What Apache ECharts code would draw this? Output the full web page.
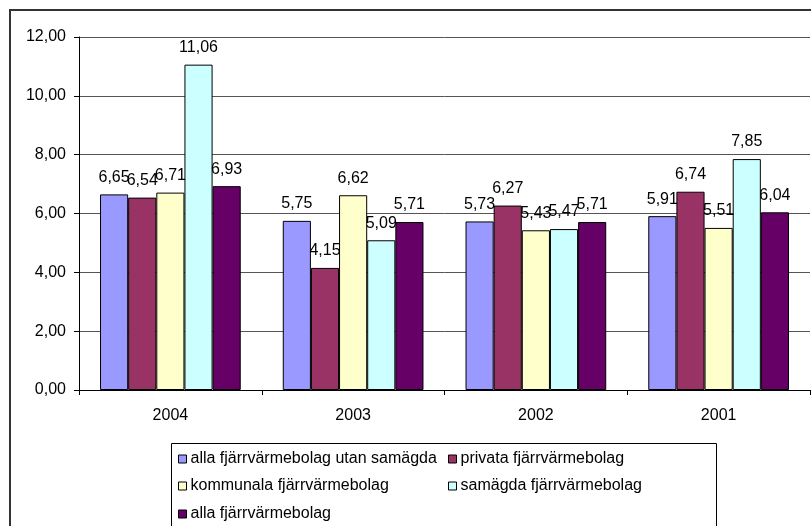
<!DOCTYPE html>
<html><head><meta charset="utf-8">
<script src="https://cdn.jsdelivr.net/npm/echarts@6/dist/echarts.min.js"></script>
<style>html,body{margin:0;padding:0;background:#fff}#c{width:811px;height:526px}</style>
</head><body><div id="c"></div>
<script>
const categories = ['2004', '2003', '2002', '2001'];
const seriesNames = ['alla fjärrvärmebolag utan samägda', 'privata fjärrvärmebolag', 'kommunala fjärrvärmebolag', 'samägda fjärrvärmebolag', 'alla fjärrvärmebolag'];
const allaUtanSamagda = [6.65, 5.75, 5.73, 5.91];
const privata = [6.54, 4.15, 6.27, 6.74];
const kommunala = [6.71, 6.62, 5.43, 5.51];
const samagda = [11.06, 5.09, 5.47, 7.85];
const alla = [6.93, 5.71, 5.71, 6.04];
const colors = ['#9999FF', '#993366', '#FFFFCC', '#CCFFFF', '#660066'];
const values = [allaUtanSamagda, privata, kommunala, samagda, alla];

const fmt = v => v.toFixed(2).replace('.', ',');
const font = 'Arial, "Liberation Sans", sans-serif';
const fs = 16;

const legendPos = [
  {left: 178, top: 451}, {left: 448, top: 451},
  {left: 178, top: 478}, {left: 448, top: 478},
  {left: 178, top: 506}
];

const chart = echarts.init(document.getElementById('c'));
chart.setOption({
  animation: false,
  backgroundColor: '#fff',
  grid: {left: 79, right: 1, top: 37, bottom: 136},
  xAxis: {
    type: 'category', data: categories,
    axisLine: {lineStyle: {color: '#000', width: 1}},
    axisTick: {show: true, length: 5, lineStyle: {color: '#000'}},
    axisLabel: {color: '#000', fontFamily: font, fontSize: fs, margin: 18}
  },
  yAxis: {
    type: 'value', min: 0, max: 12, interval: 2,
    axisLine: {show: true, lineStyle: {color: '#000', width: 1}},
    axisTick: {show: true, length: 5, lineStyle: {color: '#000'}},
    axisLabel: {color: '#000', fontFamily: font, fontSize: fs, margin: 13, formatter: v => fmt(v)},
    splitLine: {lineStyle: {color: '#555', width: 1}}
  },
  legend: seriesNames.map((n, i) => ({
    data: [n], left: legendPos[i].left, top: legendPos[i].top,
    itemWidth: 8, itemHeight: 8, itemGap: 4, padding: 0,
    icon: 'rect',
    itemStyle: {borderColor: '#000', borderWidth: 1},
    textStyle: {color: '#000', fontFamily: font, fontSize: fs, lineHeight: 16, padding: [0, 0, 0, -1]}
  })),
  graphic: [
    {type: 'rect', shape: {x: 10, y: 10, width: 820, height: 530}, style: {fill: 'none', stroke: '#333', lineWidth: 2}, silent: true},
    {type: 'rect', shape: {x: 171.5, y: 443.5, width: 545, height: 100}, style: {fill: 'none', stroke: '#000', lineWidth: 1}, silent: true, z: -1}
  ],
  series: seriesNames.map((n, i) => ({
    name: n, type: 'bar', data: values[i],
    barGap: '0%', barCategoryGap: '23%',
    itemStyle: {color: colors[i], borderColor: '#000', borderWidth: 1},
    label: {show: true, position: 'top', distance: 9, color: '#000', fontFamily: font, fontSize: fs, formatter: p => fmt(p.value)}
  }))
});
</script>
</body></html>
